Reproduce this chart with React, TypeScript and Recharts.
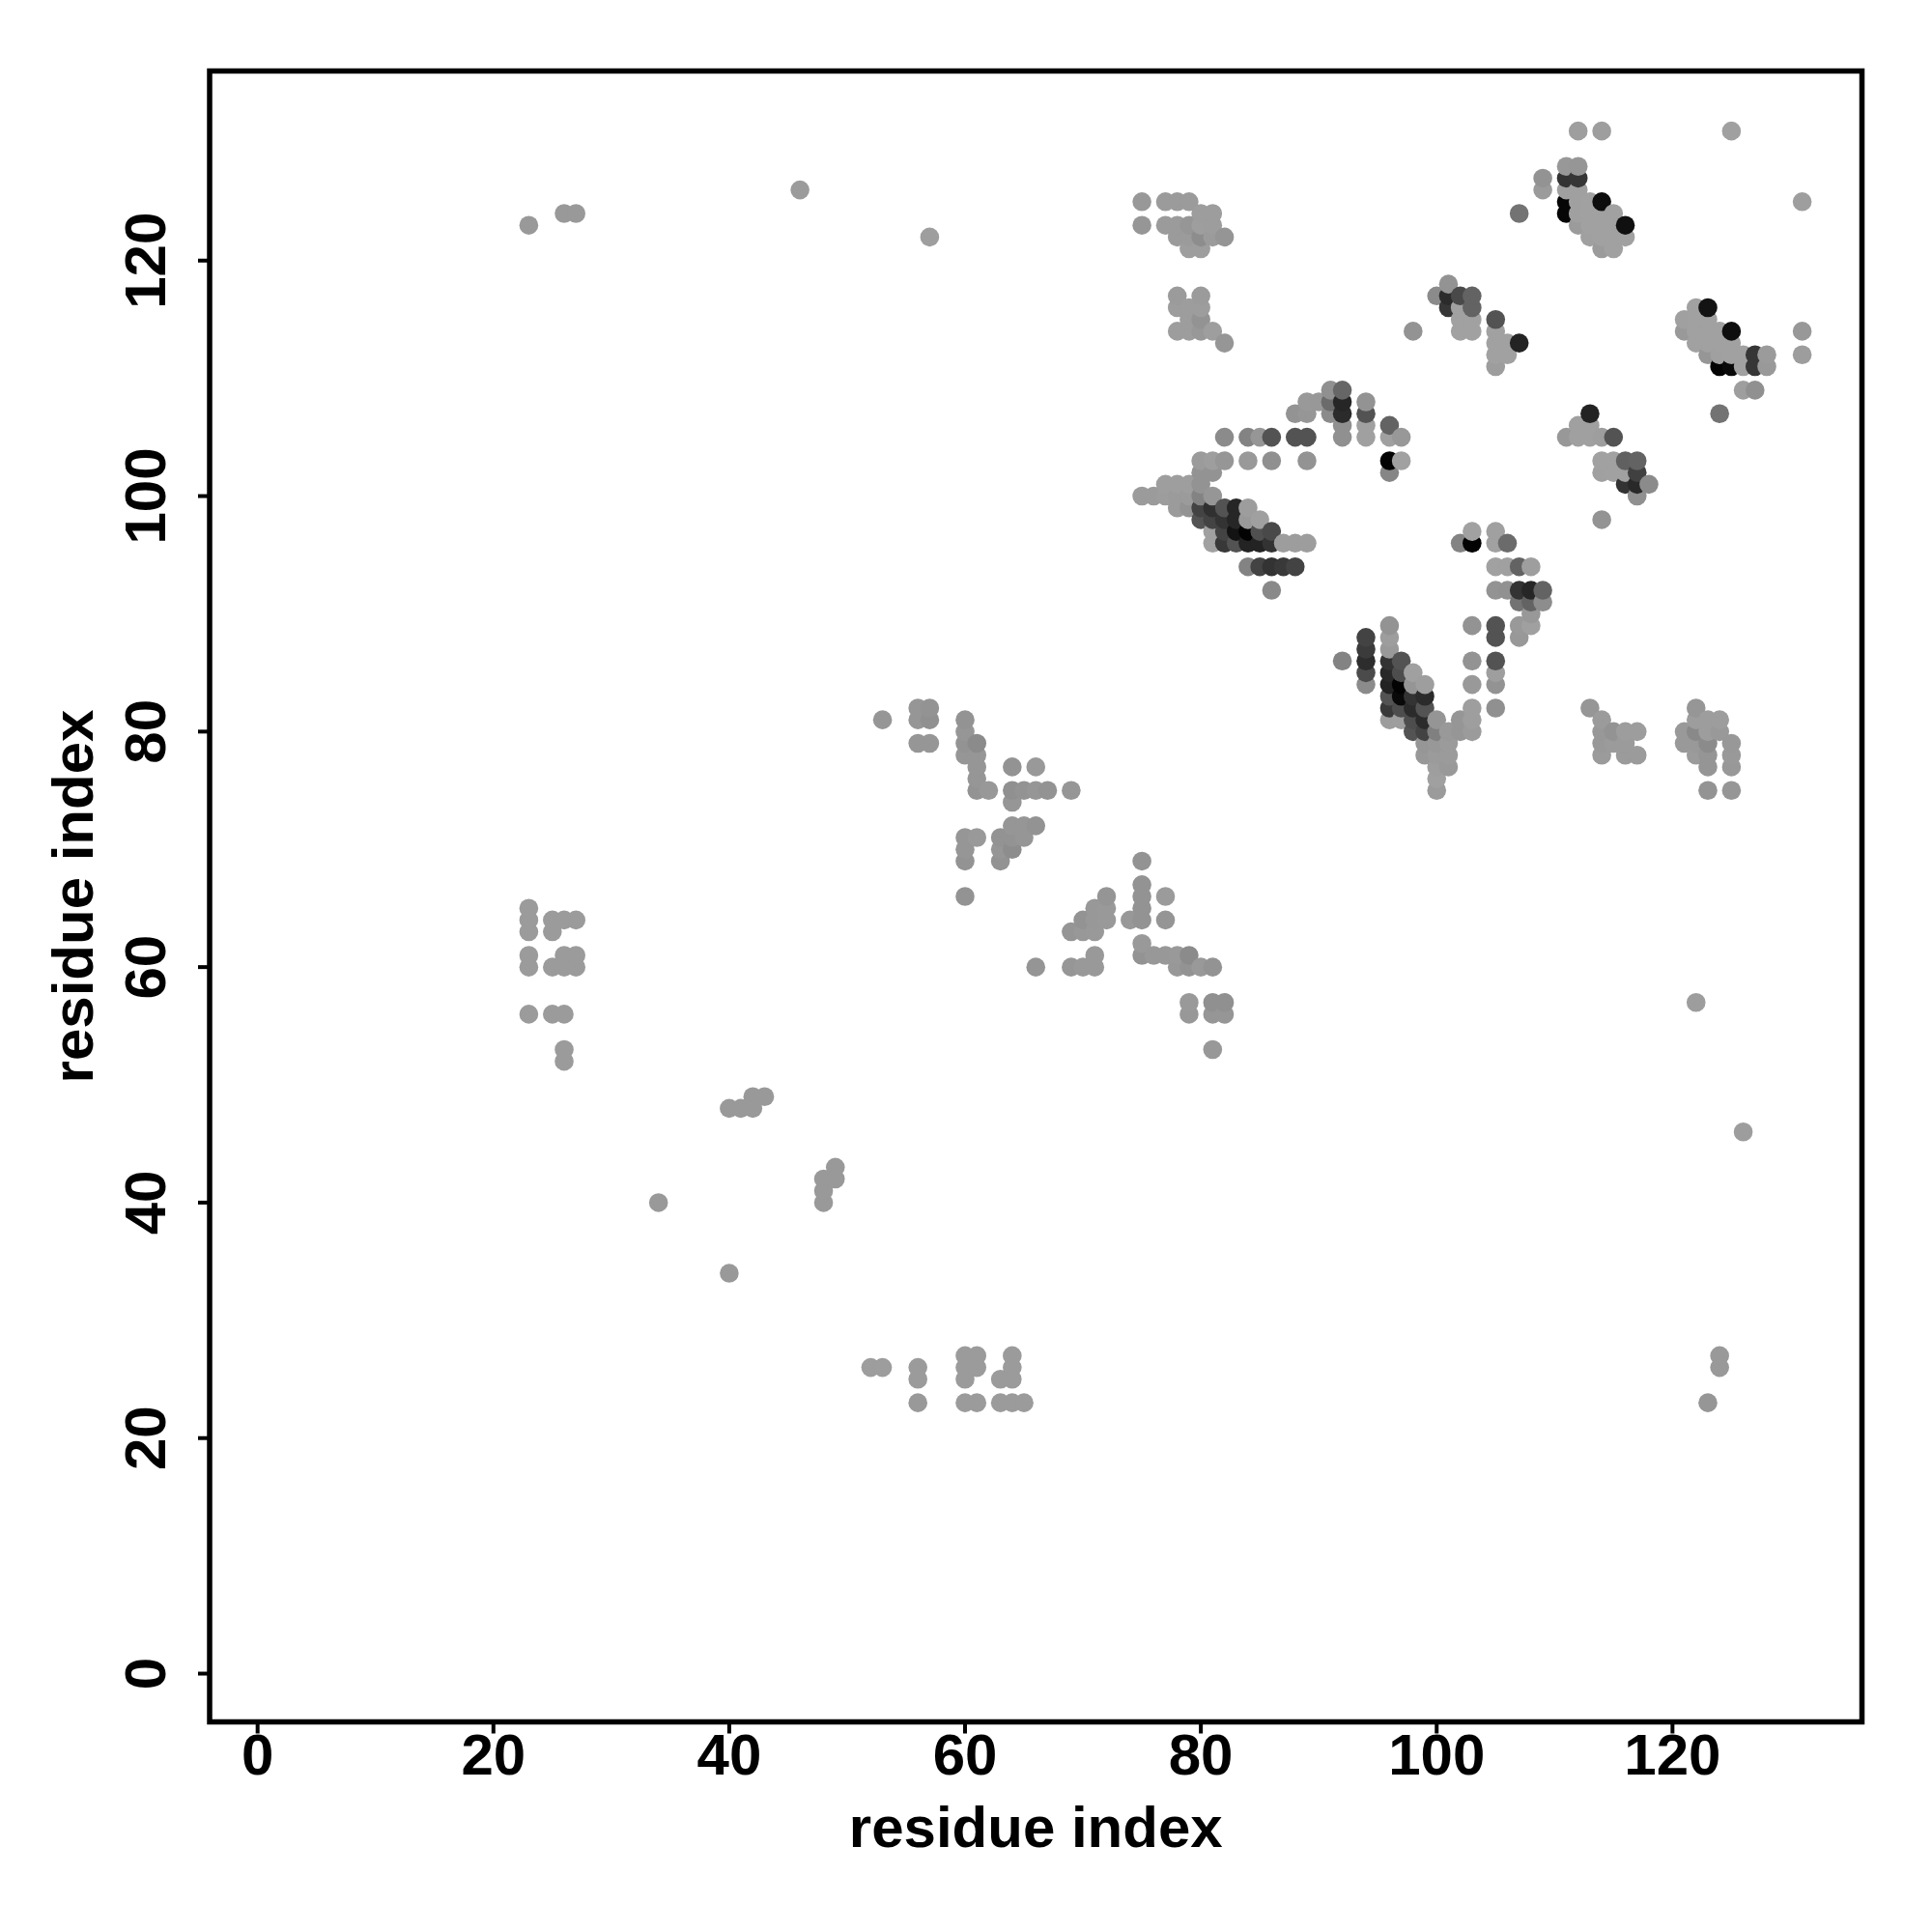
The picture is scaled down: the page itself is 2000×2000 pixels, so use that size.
import React from "react";
import { ScatterChart, Scatter, XAxis, YAxis, ReferenceArea } from "recharts";

type Contact = [number, number, number];

const axisTicks = [0, 20, 40, 60, 80, 100, 120];
const axisTitle = "residue index";

const farContacts: Contact[] = [
  [23,123,.6],[26,124,.6],[27,124,.6],[46,126,.5],[57,122,.3],[34,40,.6],[40,34,.6],[122,57,.4],[126,46,.4],
  [125,131,.2],[112,131,.3],[114,131,.3],[131,125,.3],[131,114,.7],[131,112,.4],[123,23,.8],[124,27,.6],[124,26,.6],
];
const strandLeft: Contact[] = [
  [23,65,.5],[23,64,.5],[23,63,.5],[23,61,.5],[23,60,.5],[25,64,.5],[26,64,.5],[27,64,.5],[25,63,.5],
  [26,61,.5],[27,61,.5],[25,60,.5],[26,60,.5],[27,60,.5],[23,56,.5],[25,56,.5],[26,56,.5],[26,53,.5],[26,52,.5],
];
const loopContacts: Contact[] = [
  [40,48,.6],[41,48,.6],[42,48,.6],[42,49,.6],[43,49,.6],[49,43,.6],[48,42,.6],[49,42,.6],[48,41,.6],[48,40,.6],
  [52,26,.4],[53,26,.4],[56,26,.5],[56,25,.5],[56,23,.6],[60,27,.5],[60,26,.5],[60,25,.5],[60,23,.5],[61,27,.5],[61,26,.5],[61,23,.5],
  [63,25,.5],[63,23,.5],[64,27,.5],[64,26,.5],[64,25,.5],[64,23,.5],[65,23,.5],
];
const midDiagonal: Contact[] = [
  [53,81,.8],[56,82,.8],[57,82,1],[56,81,.8],[57,81,1.2],[56,79,.8],[57,79,.8],
  [60,81,1],[60,80,.8],[60,79,1],[60,78,.8],[61,79,1.5],[61,78,.8],[61,77,.8],[61,76,.8],[61,75,1],[62,75,.7],
  [64,77,1],[66,77,.6],[64,75,1.2],[65,75,1],[66,75,.8],[67,75,1],[69,75,.8],[64,74,.8],
  [64,72,.8],[65,72,.8],[66,72,1],[60,71,.8],[61,71,.6],[63,71,1],[64,71,1],[65,71,.8],[60,70,.8],[63,70,.8],[64,70,1.4],[60,69,1],[63,69,1],[60,66,1],
];
const lowerDiagonal: Contact[] = [
  [75,69,1],[75,67,1],[75,66,1],[75,65,1],[74,64,.7],[75,64,1],[77,66,.5],[77,64,.9],[72,66,.9],[71,65,.7],[72,65,.6],
  [70,64,1],[71,64,.7],[72,64,.6],[69,63,.9],[70,63,.7],[71,63,.6],[71,61,.6],[69,60,.8],[70,60,.6],[71,60,.6],[66,60,.9],
  [75,62,.6],[75,61,1],[76,61,.7],[77,61,.7],[78,61,.6],[79,61,1.5],[78,60,.7],[79,60,1],[80,60,.6],[81,60,1],
  [79,57,.6],[79,56,.7],[81,57,1.2],[82,57,1.2],[81,56,.8],[82,56,.8],[81,53,.7],
];
const upperLeftBlock: Contact[] = [
  [75,125,.7],[77,125,.5],[78,125,.5],[79,125,.5],[80,124,.4],[81,124,.4],[75,123,.8],[77,123,.5],[78,123,.5],[79,123,.8],[80,123,.3],[81,123,.4],
  [78,122,.5],[79,122,.5],[80,122,1.4],[81,122,.5],[82,122,.9],[79,121,.3],[80,121,.3],
  [78,117,.5],[80,117,.5],[78,116,.4],[79,116,.4],[80,116,.4],[79,115,.4],[80,115,1],[78,114,.4],[79,114,.4],[80,114,.7],[81,114,.3],[82,113,.8],
];
const helixHairpin: Contact[] = [
  [88,107,1],[89,107,.8],[89,108,.6],[90,108,.7],[91,109,1.2],[91,108,3.5],[91,107,1.5],[92,109,3.8],[92,108,7.8],[92,107,7.5],[92,106,1.2],[92,105,1.2],
  [94,108,1],[94,107,5],[94,106,.2],[94,105,.2],[96,106,4],[96,105,.2],[97,105,.7],
  [82,105,1.5],[84,105,2],[85,105,.8],[86,105,5],[88,105,5],[89,105,5],
  [80,103,.5],[81,103,.3],[82,103,.8],[84,103,.6],[86,103,1.2],[89,103,1],[96,103,10],[97,103,.1],[96,102,1.8],
  [80,102,1],[81,102,1],[77,101,.3],[78,101,.3],[79,101,.3],[80,101,1],
];
const denseDiagonal: Contact[] = [
  [75,100,.5],[76,100,.5],[77,100,.4],[78,100,.5],[79,100,.5],[80,100,2],[81,100,.8],
  [78,99,.5],[79,99,1],[80,99,6],[81,99,7.2],[82,99,5],[83,99,7.8],[84,99,.4],
  [80,98,5],[81,98,6],[82,98,7],[83,98,7.8],[84,98,.6],[85,98,.2],
  [81,97,.2],[82,97,6],[83,97,9],[84,97,10],[85,97,5.2],[86,97,5.6],
  [81,96,.1],[82,96,6.7],[83,96,5],[84,96,8],[85,96,8],[86,96,7],[87,96,.4],[88,96,.4],[89,96,.4],
  [84,94,2],[85,94,6],[86,94,7],[87,94,6.6],[88,94,6],[86,92,1.6],
];
const hairpinV: Contact[] = [
  [92,86,2],[94,88,6],[94,87,6.5],[94,86,7.4],[94,85,5.5],[94,84,1.5],
  [96,89,1],[96,88,.4],[96,87,.6],[96,86,7],[96,85,7.6],[96,84,8],[96,83,5],[96,82,6.6],[96,81,.4],
  [97,86,5],[97,85,5.4],[97,84,10],[97,83,9.6],[97,82,5.4],[97,81,.3],
  [98,85,.2],[98,84,.9],[98,83,7],[98,82,7.5],[98,81,5.4],[98,80,5],
  [99,84,.3],[99,83,7.5],[99,82,5],[99,81,7.5],[99,80,6],[99,79,.8],[99,78,.7],
  [100,81,.9],[100,80,2.2],[100,79,.7],[100,78,.5],[100,77,.3],[100,76,.2],[100,75,.5],
  [101,80,.6],[101,79,.5],[101,78,.5],[101,77,.6],[102,81,.8],[102,80,.8],
  [103,89,1],[103,86,1],[103,84,.6],[103,82,.3],[103,81,.3],[103,80,.5],
  [105,89,5],[105,88,5],[105,86,5],[105,85,.3],[105,84,1],[105,82,1.2],
];
const upperMiddle: Contact[] = [
  [98,114,1],[100,117,1.5],[101,118,1],[101,117,7.5],[101,116,6.8],[102,117,5.6],[103,117,4],[103,116,4],
  [102,116,.1],[102,115,.1],[103,115,.1],[102,114,.1],[103,114,.1],
  [105,115,5],[105,114,.1],[105,113,.1],[105,112,.1],[105,111,.4],[106,113,.1],[106,112,.1],[107,113,8],
];
const betaPatch: Contact[] = [
  [102,96,2],[103,96,10],[103,97,.1],[105,97,.2],[105,96,.1],[106,96,3.5],
  [105,94,.1],[106,94,.2],[107,94,4],[108,94,.3],[105,92,1],[106,92,1.1],[107,92,7],[108,92,7.8],[109,92,4],
  [107,91,3],[108,91,4],[109,91,1.4],[108,90,.7],[107,89,.6],[108,89,.2],[107,88,.7],
];
const rightMiddle: Contact[] = [
  [113,107,8],[112,106,.2],[113,106,.2],[111,105,.7],[112,105,.2],[113,105,.2],[114,105,.3],[115,105,5],
  [114,103,.1],[115,103,.1],[116,103,4.2],[117,103,4],[114,102,.2],[115,102,.1],[116,102,.1],[117,102,6.2],
  [116,101,7],[117,101,7.6],[118,101,1.5],[117,100,1.2],[114,98,1],
];
const topRightA: Contact[] = [
  [109,127,1],[109,126,.5],[107,124,3],[111,128,.7],[112,128,.8],[111,127,7],[112,127,6.8],[111,126,.2],[112,126,.2],
  [111,125,9.8],[112,125,.2],[113,125,.1],[114,125,9.4],[111,124,9.8],[112,124,.2],[113,124,.1],[114,124,.1],[115,124,.1],
  [112,123,.5],[113,123,.1],[114,123,.1],[115,123,.1],[116,123,9.2],[113,122,.2],[114,122,.1],[115,122,.1],[116,122,.1],[114,121,.5],[115,121,.1],
];
const topRightB: Contact[] = [
  [122,116,.1],[123,116,9],[121,115,.2],[122,115,.1],[123,115,.1],[121,114,.6],[122,114,.1],[123,114,.1],[124,114,.1],[125,114,9.3],
  [122,113,.1],[123,113,.1],[124,113,.1],[125,113,.1],[123,112,.8],[124,112,.2],[125,112,.1],[126,112,.1],[127,112,6.8],[128,112,.5],
  [124,111,10],[125,111,9.6],[126,111,.1],[127,111,6.8],[128,111,.6],[126,109,.3],[127,109,1.2],[124,107,3],
];
const lowerRight: Contact[] = [
  [113,82,.8],[114,81,.5],[114,80,.7],[115,80,1],[116,80,.4],[117,80,.4],[114,79,.6],[115,79,.5],[116,79,.5],[114,78,.5],[116,78,.5],[117,78,.5],
  [122,82,.8],[122,81,.4],[123,81,.4],[124,81,.4],[121,80,.6],[122,80,1.6],[123,80,.4],[124,80,.6],[121,79,.6],[122,79,.6],[123,79,1.5],[125,79,.7],
  [122,78,.5],[123,78,.9],[125,78,.6],[123,77,.9],[125,77,.7],[123,75,1],[125,75,.8],
];

const contacts = [
  ...farContacts, ...strandLeft, ...loopContacts, ...midDiagonal, ...lowerDiagonal, ...upperLeftBlock,
  ...helixHairpin, ...denseDiagonal, ...hairpinV, ...upperMiddle, ...betaPatch, ...rightMiddle,
  ...topRightA, ...topRightB, ...lowerRight,
]
  .sort((a, b) => a[0] - b[0] || a[1] - b[1])
  .map(([i, j, strength]) => ({ i, j, strength }));

const FONT = "'Liberation Sans', Arial, sans-serif";
const FONT_SIZE = 60;

const shade = (s: number) => {
  const g = Math.max(0, Math.round(163 - 16 * s));
  return `rgb(${g},${g},${g})`;
};

const Dot = (p: any) => <circle cx={p.cx} cy={p.cy} r={9.8} fill={shade(p.payload.strength)} />;

const XTick = (p: any) => (
  <text x={p.x} y={p.y + 40} textAnchor="middle" fontFamily={FONT} fontWeight="bold" fontSize={FONT_SIZE} fill="#000">
    {p.payload.value}
  </text>
);
const YTick = (p: any) => (
  <text
    transform={`translate(${p.x - 32},${p.y}) rotate(-90)`}
    textAnchor="middle"
    fontFamily={FONT}
    fontWeight="bold"
    fontSize={FONT_SIZE}
    fill="#000"
  >
    {p.payload.value}
  </text>
);

export default function App() {
  return (
    <div style={{ position: "absolute", left: 0, top: 0, width: 2000, height: 2000, background: "#fff" }}>
      <ScatterChart width={2000} height={2000} margin={{ top: 73.5, right: 72.5, left: 0, bottom: 0 }}>
        <XAxis
          type="number"
          dataKey="i"
          domain={[-4.07, 136.07]}
          ticks={axisTicks}
          interval={0}
          allowDataOverflow
          height={217.5}
          tickSize={12}
          axisLine={false}
          tickLine={{ stroke: "#000", strokeWidth: 4 }}
          tick={<XTick />}
          label={{
            value: axisTitle,
            position: "insideBottom",
            offset: 88,
            style: { fontFamily: FONT, fontWeight: "bold", fontSize: FONT_SIZE, fill: "#000" },
          }}
        />
        <YAxis
          type="number"
          dataKey="j"
          domain={[-4.1, 136.1]}
          ticks={axisTicks}
          interval={0}
          allowDataOverflow
          width={217}
          tickSize={12}
          axisLine={false}
          tickLine={{ stroke: "#000", strokeWidth: 4 }}
          tick={<YTick />}
          label={{
            value: axisTitle,
            angle: -90,
            position: "insideLeft",
            offset: 75,
            style: { textAnchor: "middle", fontFamily: FONT, fontWeight: "bold", fontSize: FONT_SIZE, fill: "#000" },
          }}
        />
        <Scatter data={contacts} isAnimationActive={false} shape={Dot} />
        <ReferenceArea
          x1={-4.07}
          x2={136.07}
          y1={-4.1}
          y2={136.1}
          fill="none"
          stroke="#000"
          strokeWidth={5.5}
          ifOverflow="visible"
        />
      </ScatterChart>
    </div>
  );
}
